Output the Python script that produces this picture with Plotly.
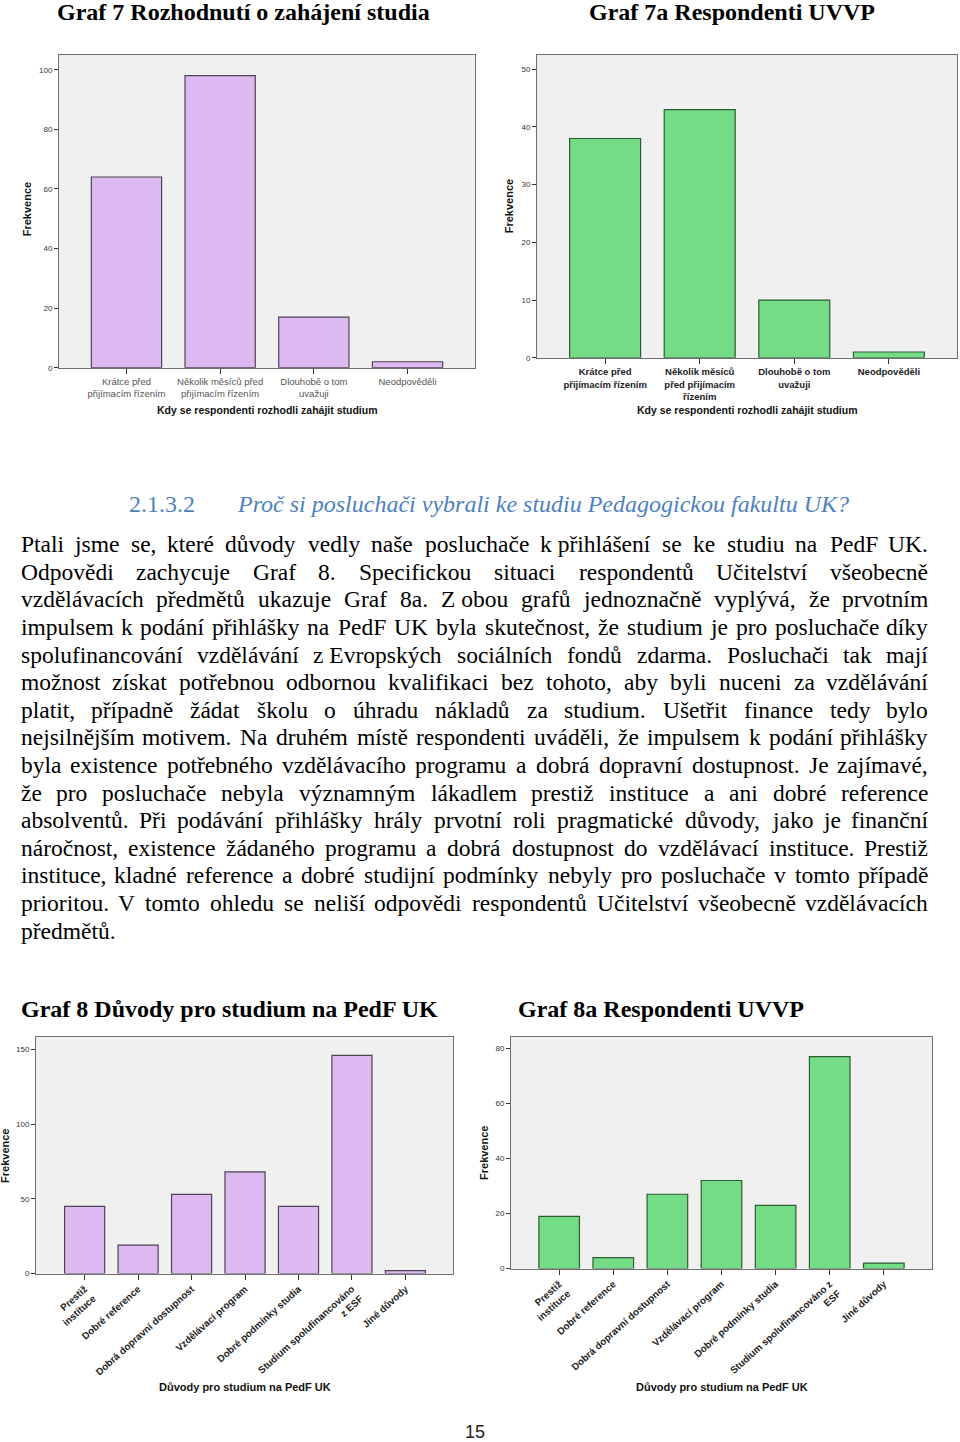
import unicodedata
import plotly.graph_objects as go

W, H = 960, 1442

# ---------------- data ----------------
cat7 = ["Krátce před<br>přijímacím řízením", "Několik měsíců před<br>přijímacím řízením",
        "Dlouhobě o tom<br>uvažuji", "Neodpověděli"]
freq7 = [64, 98, 17, 2]

cat7a = ["Krátce před<br>přijímacím řízením", "Několik měsíců<br>před přijímacím<br>řízením",
         "Dlouhobě o tom<br>uvažuji", "Neodpověděli"]
freq7a = [38, 43, 10, 1]

cat8 = ["Prestiž<br>instituce", "Dobré reference", "Dobrá dopravní dostupnost", "Vzdělávací program",
        "Dobré podmínky studia", "Studium spolufinancováno<br>z ESF", "Jiné důvody"]
freq8 = [45, 19, 53, 68, 45, 146, 2]

cat8a = ["Prestiž<br>instituce", "Dobré reference", "Dobrá dopravní dostupnost", "Vzdělávací program",
         "Dobré podmínky studia", "Studium spolufinancováno z<br>ESF", "Jiné důvody"]
freq8a = [19, 4, 27, 32, 23, 77, 2]

titles = ["Graf 7 Rozhodnutí o zahájení studia", "Graf 7a Respondenti UVVP",
          "Graf 8 Důvody pro studium na PedF UK", "Graf 8a Respondenti UVVP"]
xtitle7 = "Kdy se respondenti rozhodli zahájit studium"
xtitle8 = "Důvody pro studium na PedF UK"
ytitle = "Frekvence"

heading_num = "2.1.3.2"
heading_txt = "Proč si posluchači vybrali ke studiu Pedagogickou fakultu UK?"

paragraph = [
    "Ptali jsme se, které důvody vedly naše posluchače k\u00a0přihlášení se ke studiu na PedF UK.",
    "Odpovědi zachycuje Graf 8. Specifickou situaci respondentů Učitelství všeobecně",
    "vzdělávacích předmětů ukazuje Graf 8a. Z\u00a0obou grafů jednoznačně vyplývá, že prvotním",
    "impulsem k podání přihlášky na PedF UK byla skutečnost, že studium je pro posluchače díky",
    "spolufinancování vzdělávání z\u00a0Evropských sociálních fondů zdarma. Posluchači tak mají",
    "možnost získat potřebnou odbornou kvalifikaci bez tohoto, aby byli nuceni za vzdělávání",
    "platit, případně žádat školu o úhradu nákladů za studium. Ušetřit finance tedy bylo",
    "nejsilnějším motivem. Na druhém místě respondenti uváděli, že impulsem k podání přihlášky",
    "byla existence potřebného vzdělávacího programu a dobrá dopravní dostupnost. Je zajímavé,",
    "že pro posluchače nebyla významným lákadlem prestiž instituce a ani dobré reference",
    "absolventů. Při podávání přihlášky hrály prvotní roli pragmatické důvody, jako je finanční",
    "náročnost, existence žádaného programu a dobrá dostupnost do vzdělávací instituce. Prestiž",
    "instituce, kladné reference a dobré studijní podmínky nebyly pro posluchače v tomto případě",
    "prioritou. V tomto ohledu se neliší odpovědi respondentů Učitelství všeobecně vzdělávacích",
    "předmětů.",
]
page_number = "15"

# ---------------- helpers ----------------
SERIF = "Liberation Serif"
SANS = "Liberation Sans"

TNR = {' ': 250, '\u00a0': 250, '!': 333, ',': 250, '-': 333, '.': 250, ':': 278, ';': 278, '?': 444,
       '0': 500, '1': 500, '2': 500, '3': 500, '4': 500, '5': 500, '6': 500, '7': 500, '8': 500, '9': 500,
       'A': 722, 'B': 667, 'C': 667, 'D': 722, 'E': 611, 'F': 556, 'G': 722, 'H': 722, 'I': 333, 'J': 389,
       'K': 722, 'L': 611, 'M': 889, 'N': 722, 'O': 722, 'P': 556, 'Q': 722, 'R': 667, 'S': 556, 'T': 611,
       'U': 722, 'V': 722, 'W': 944, 'X': 722, 'Y': 722, 'Z': 611,
       'a': 444, 'b': 500, 'c': 444, 'd': 500, 'e': 444, 'f': 333, 'g': 500, 'h': 500, 'i': 278, 'j': 278,
       'k': 500, 'l': 278, 'm': 778, 'n': 500, 'o': 500, 'p': 500, 'q': 500, 'r': 333, 's': 389, 't': 278,
       'u': 500, 'v': 500, 'w': 722, 'x': 500, 'y': 500, 'z': 444}


def text_width(s, size):
    tot = 0
    for ch in s:
        if ch in TNR:
            tot += TNR[ch]
        else:
            base = unicodedata.normalize('NFD', ch)[0]
            tot += TNR.get(base, 500)
    return tot * size / 1000.0


def px(x):
    return x / W


def py(y):
    return 1 - y / H


annotations = []


def add_text(text, x, y, size, family=SERIF, color="#000", xanchor="left", yanchor="middle",
             angle=0, weight="normal"):
    annotations.append(dict(text=text, x=px(x), y=py(y), xref="paper", yref="paper",
                            xanchor=xanchor, yanchor=yanchor, showarrow=False, textangle=angle,
                            borderpad=0,
                            font=dict(family=family, size=size, color=color, weight=weight)))


# ---------------- figure ----------------
PURPLE = "#DDB9F1"
PURPLE_LINE = "#4d4352"
GREEN = "#73DC85"
GREEN_LINE = "#2f5a36"

fig = go.Figure()
fig.add_trace(go.Bar(x=cat7, y=freq7, xaxis="x", yaxis="y", marker=dict(color=PURPLE, line=dict(color=PURPLE_LINE, width=1.2))))
fig.add_trace(go.Bar(x=cat7a, y=freq7a, xaxis="x2", yaxis="y2", marker=dict(color=GREEN, line=dict(color=GREEN_LINE, width=1.2))))
fig.add_trace(go.Bar(x=cat8, y=freq8, xaxis="x3", yaxis="y3", marker=dict(color=PURPLE, line=dict(color=PURPLE_LINE, width=1.2))))
fig.add_trace(go.Bar(x=cat8a, y=freq8a, xaxis="x4", yaxis="y4", marker=dict(color=GREEN, line=dict(color=GREEN_LINE, width=1.2))))


def xax(dom, rng, anchor, angle, bold, color, size=9.5):
    return dict(domain=[px(dom[0]), px(dom[1])], range=rng, anchor=anchor, type="category",
                showline=True, mirror=True, linecolor="#6e6e6e", linewidth=1,
                ticks="outside", ticklen=5, tickcolor="#333", tickwidth=1, tickangle=angle,
                tickfont=dict(family=SANS, size=size, color=color, weight="bold" if bold else "normal"),
                showgrid=False, zeroline=False, fixedrange=True)


def yax(dom, rng, anchor, dtick):
    return dict(domain=[py(dom[1]), py(dom[0])], range=rng, anchor=anchor, dtick=dtick,
                showline=True, mirror=True, linecolor="#6e6e6e", linewidth=1,
                ticks="outside", ticklen=4, tickcolor="#333", tickwidth=1,
                tickfont=dict(family=SANS, size=8, color="#333"),
                showgrid=False, zeroline=False, fixedrange=True)


fig.update_layout(
    width=W, height=H, margin=dict(l=0, r=0, t=0, b=0),
    paper_bgcolor="white", plot_bgcolor="#F0F0F0", showlegend=False, bargap=0.25,
    xaxis=xax((59, 475), [-0.72, 3.72], "y", 0, False, "#555"),
    yaxis=yax((55, 369), [0, 105], "x", 20),
    xaxis2=xax((537, 957), [-0.72, 3.72], "y2", 0, True, "#222"),
    yaxis2=yax((55, 359), [0, 52.5], "x2", 10),
    xaxis3=xax((36, 453), [-0.91, 6.89], "y3", -42, True, "#222", 9.8),
    yaxis3=yax((1041, 1278), [0, 158], "x3", 50),
    xaxis4=xax((511, 932), [-0.89, 6.89], "y4", -42, True, "#222", 9.8),
    yaxis4=yax((1041, 1273), [0, 84], "x4", 20),
)

# chart titles
add_text(titles[0], 56, 12, 24, weight="bold")
add_text(titles[1], 588, 12, 24, weight="bold")
add_text(titles[2], 20, 1013, 24, weight="bold")
add_text(titles[3], 517, 1013, 24, weight="bold")

# axis titles
add_text(xtitle7, 267, 411, 10.5, family=SANS, color="#111", xanchor="center", weight="bold")
add_text(xtitle7, 747, 411, 10.5, family=SANS, color="#111", xanchor="center", weight="bold")
add_text(xtitle8, 245, 1392, 11, family=SANS, color="#111", xanchor="center", weight="bold")
add_text(xtitle8, 722, 1392, 11, family=SANS, color="#111", xanchor="center", weight="bold")
add_text(ytitle, 27, 210, 11, family=SANS, color="#111", xanchor="center", angle=-90, weight="bold")
add_text(ytitle, 509, 207, 11, family=SANS, color="#111", xanchor="center", angle=-90, weight="bold")
add_text(ytitle, 5, 1160, 11, family=SANS, color="#111", xanchor="center", angle=-90, weight="bold")
add_text(ytitle, 484, 1157, 11, family=SANS, color="#111", xanchor="center", angle=-90, weight="bold")

# section heading
HC = "#4F81BD"
add_text(heading_num, 128, 506, 24, color=HC)
add_text("<i>" + heading_txt + "</i>", 236, 506, 24, color=HC)

# justified paragraph
FS = 23.5
L, R = 20, 929
Y0, DY = 546, 27.7
for i, line in enumerate(paragraph):
    y = Y0 + i * DY
    if i == len(paragraph) - 1:
        add_text(line, L, y, FS)
        continue
    words = line.split(" ")
    widths = [text_width(w, FS) for w in words]
    gap = (R - L - sum(widths)) / (len(words) - 1)
    x = L
    for j, (w, wd) in enumerate(zip(words, widths)):
        if j == 0:
            add_text(w, x, y, FS, xanchor="left")
        elif j == len(words) - 1:
            add_text(w, R, y, FS, xanchor="right")
        else:
            add_text(w, x + wd / 2, y, FS, xanchor="center")
        x += wd + gap

# page number
add_text(page_number, 475, 1437, 18, family=SANS, color="#222", xanchor="center")

fig.update_layout(annotations=annotations)
fig.write_html("out.html")
